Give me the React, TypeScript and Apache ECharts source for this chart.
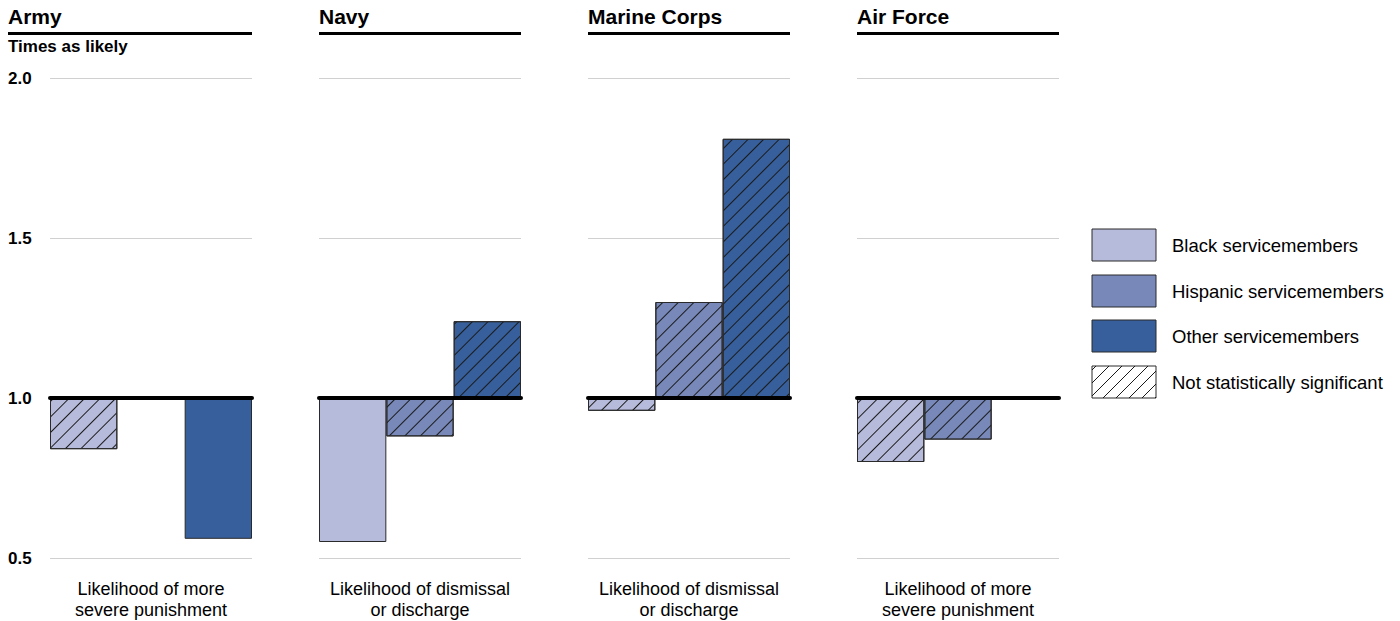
import React, { useEffect, useRef } from "react";
import * as echarts from "echarts";

const panels = ["Army", "Navy", "Marine Corps", "Air Force"];
const groups = ["Black servicemembers", "Hispanic servicemembers", "Other servicemembers"];
const groupColors = ["#b7bbdb", "#7788b9", "#365f9b"];
const armyValues = [0.84, null, 0.56];
const navyValues = [0.55, 0.88, 1.24];
const marineValues = [0.96, 1.3, 1.81];
const airForceValues = [0.8, 0.87, null];
const armySignificant = [false, null, true];
const navySignificant = [true, false, false];
const marineSignificant = [false, false, false];
const airForceSignificant = [false, false, null];
const measureLabels = [
  "Likelihood of more\nsevere punishment",
  "Likelihood of dismissal\nor discharge",
  "Likelihood of dismissal\nor discharge",
  "Likelihood of more\nsevere punishment",
];
const yTicks = [0.5, 1.0, 1.5, 2.0];
const baseline = 1.0;
const yAxisTitle = "Times as likely";
const hatchLabel = "Not statistically significant";

const FONT = "'Liberation Sans', Arial, sans-serif";

const hatchDecal = {
  symbol: "rect",
  symbolSize: 1,
  dashArrayX: [1, 0],
  dashArrayY: [1, 10],
  rotation: -Math.PI / 4,
  color: "#1a1a1a",
};

function hatchLines(x0: number, y0: number, w: number, h: number, step: number) {
  const out: any[] = [];
  const x1 = x0 + w;
  const bottom = y0 + h;
  for (let c = x0 - h + 4; c < x1; c += step) {
    const t0 = Math.max(0, x0 - c);
    const t1 = Math.min(h, x1 - c);
    if (t1 <= t0) continue;
    out.push({
      type: "line",
      shape: { x1: c + t0, y1: bottom - t0, x2: c + t1, y2: bottom - t1 },
      style: { stroke: "#1a1a1a", lineWidth: 1 },
      silent: true,
    });
  }
  return out;
}

export default function App() {
  const ref = useRef<HTMLDivElement>(null);
  useEffect(() => {
    if (!ref.current) return;
    const chart = echarts.init(ref.current, null, { renderer: "svg" });
    const allValues = [armyValues, navyValues, marineValues, airForceValues];
    const allSig = [armySignificant, navySignificant, marineSignificant, airForceSignificant];
    const lefts = [50, 319, 588, 857];
    const gridW = 202;
    const gridTop = 78;
    const gridH = 480;

    const grids = lefts.map((l) => ({ left: l, top: gridTop, width: gridW, height: gridH }));
    const xAxes = lefts.map((_, i) => ({
      type: "category",
      gridIndex: i,
      data: groups,
      axisLine: { onZero: true, lineStyle: { color: "#000", width: 4 } },
      axisTick: { show: false },
      axisLabel: { show: false },
      z: 5,
    }));
    const yAxes = lefts.map((_, i) => ({
      type: "value",
      gridIndex: i,
      min: yTicks[0] - baseline,
      max: yTicks[yTicks.length - 1] - baseline,
      interval: 0.5,
      axisLine: { show: false },
      axisTick: { show: false },
      splitLine: { lineStyle: { color: "#d0d0d0", width: 1 } },
      axisLabel: {
        show: i === 0,
        formatter: (v: number) => (v + baseline).toFixed(1),
        color: "#000",
        fontWeight: "bold",
        fontSize: 17,
        fontFamily: FONT,
        align: "left",
        margin: 42,
      },
    }));
    const series = allValues.map((vals, i) => ({
      type: "bar",
      xAxisIndex: i,
      yAxisIndex: i,
      barCategoryGap: 0,
      data: vals.map((v, j) =>
        v === null
          ? "-"
          : {
              value: +(v - baseline).toFixed(3),
              itemStyle: {
                color: groupColors[j],
                borderColor: "#2a2a2a",
                borderWidth: 1,
                decal: allSig[i][j] ? undefined : hatchDecal,
              },
            }
      ),
    }));

    const titles: any[] = [];
    panels.forEach((p, i) => {
      titles.push({
        text: p,
        left: i === 0 ? 8 : lefts[i],
        top: 6,
        padding: 0,
        textStyle: { fontFamily: FONT, fontWeight: "bold", fontSize: 21, color: "#000" },
      });
      titles.push({
        text: measureLabels[i],
        left: lefts[i] + gridW / 2,
        top: 578,
        padding: 0,
        textAlign: "center",
        textStyle: { fontFamily: FONT, fontWeight: "normal", fontSize: 18, color: "#000", lineHeight: 21 },
      });
    });
    titles.push({
      text: yAxisTitle,
      left: 8,
      top: 38,
      padding: 0,
      textStyle: { fontFamily: FONT, fontWeight: "bold", fontSize: 17, color: "#000" },
    });

    const graphics: any[] = [];
    panels.forEach((_, i) => {
      const x1 = i === 0 ? 8 : lefts[i];
      graphics.push({
        type: "rect",
        shape: { x: x1, y: 32, width: lefts[i] + gridW - x1, height: 3 },
        style: { fill: "#000" },
        silent: true,
      });
    });
    const legendYs = [229, 275, 320, 366];
    const legendLabels = [...groups, hatchLabel];
    legendLabels.forEach((lab, k) => {
      const y = legendYs[k];
      graphics.push({
        type: "rect",
        shape: { x: 1092, y, width: 64, height: 32 },
        style: { fill: k < 3 ? groupColors[k] : "#fff", stroke: "#2a2a2a", lineWidth: 1 },
        silent: true,
      });
      if (k === 3) graphics.push(...hatchLines(1092, y, 64, 32, 13));
      graphics.push({
        type: "text",
        x: 1172,
        y: y + 16,
        style: {
          text: lab,
          fill: "#000",
          font: `18.5px ${FONT}`,
          verticalAlign: "middle",
          align: "left",
        },
        silent: true,
      });
    });

    chart.setOption({
      animation: false,
      backgroundColor: "#fff",
      title: titles,
      grid: grids,
      xAxis: xAxes,
      yAxis: yAxes,
      series,
      graphic: graphics,
    });
    return () => chart.dispose();
  }, []);
  return (
    <div
      ref={ref}
      style={{ position: "fixed", left: 0, top: 0, width: 1400, height: 621 }}
    />
  );
}
